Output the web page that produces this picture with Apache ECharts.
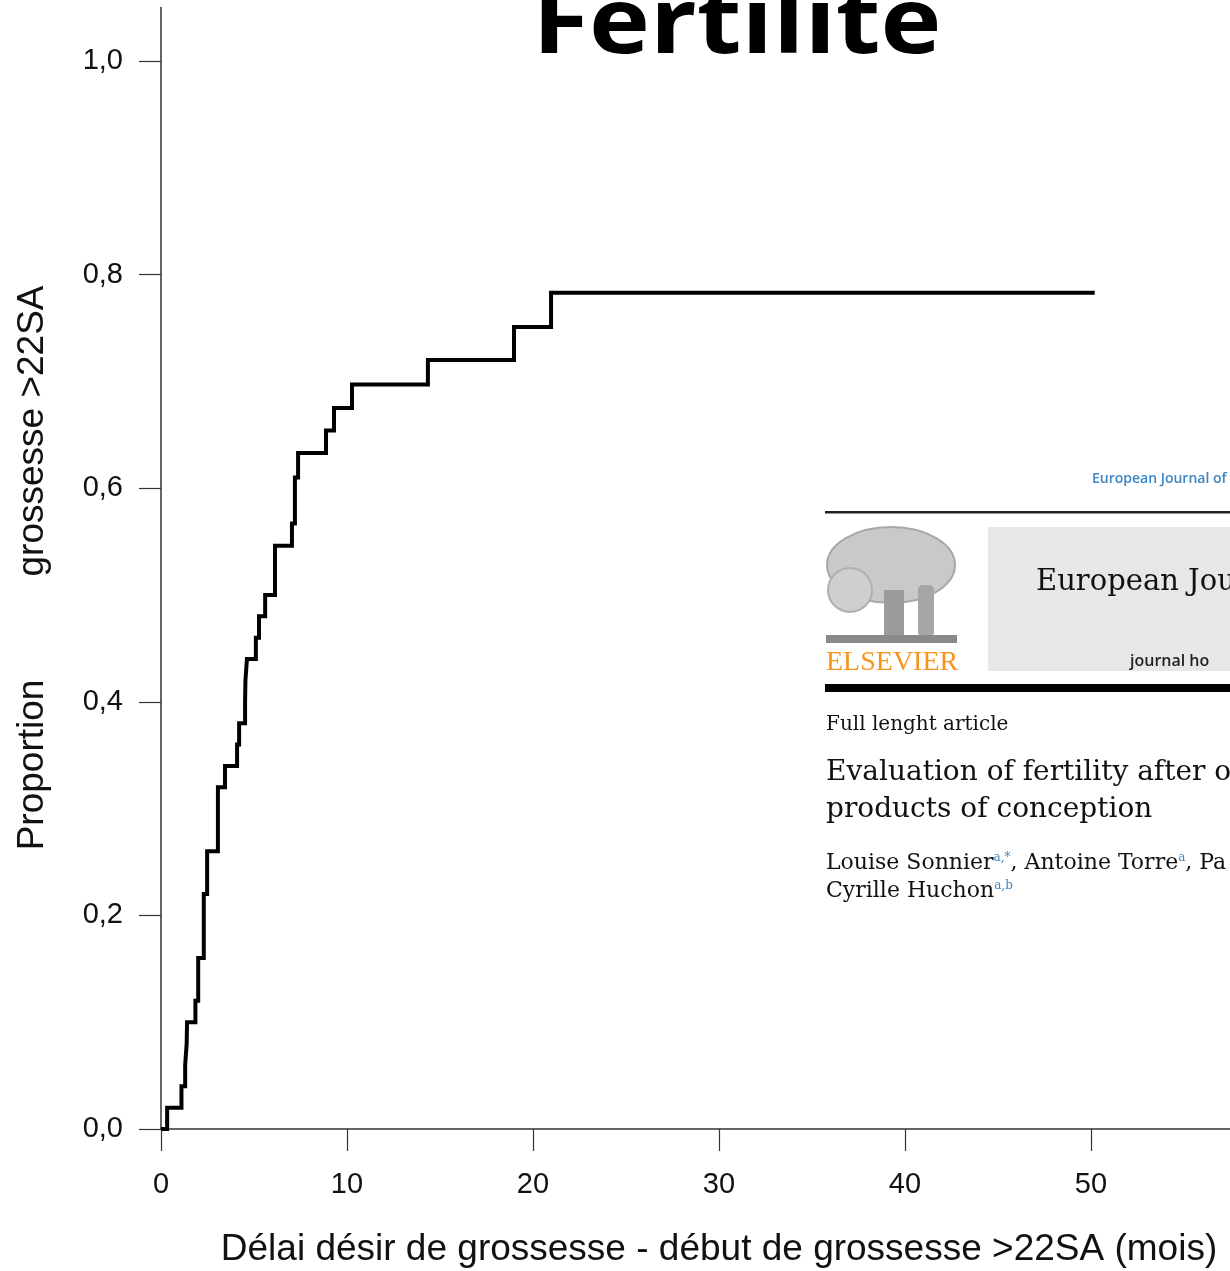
<!DOCTYPE html>
<html>
<head>
<meta charset="utf-8">
<script src="https://cdn.jsdelivr.net/npm/echarts@6/dist/echarts.min.js"></script>
<style>
html,body{margin:0;padding:0;background:#fff;}
#chart{width:1230px;height:1271px;}
</style>
</head>
<body>
<div id="chart"></div>
<script>
// Kaplan-Meier style cumulative proportion (step curve)
const timesMonths = [0, 0.33, 1.1, 1.3, 1.38, 1.4, 1.85, 2.0, 2.3, 2.48, 3.06, 3.44, 4.09, 4.2, 4.52, 4.54, 4.62, 5.1, 5.27, 5.6, 6.13, 7.04, 7.2, 7.37, 8.87, 9.3, 10.27, 14.35, 18.98, 20.97, 50.2];
const proportion  = [0, 0.02, 0.04, 0.06, 0.08, 0.10, 0.12, 0.16, 0.22, 0.26, 0.32, 0.34, 0.36, 0.38, 0.40, 0.42, 0.44, 0.46, 0.48, 0.50, 0.546, 0.567, 0.61, 0.633, 0.654, 0.675, 0.697, 0.72, 0.751, 0.783, 0.783];
const yTicks = [0, 0.2, 0.4, 0.6, 0.8, 1.0];
const xTicks = [0, 10, 20, 30, 40, 50, 60];
const titleText = 'Fertilité';
const xName = 'Délai désir de grossesse - début de grossesse >22SA (mois)';
const yName1 = 'Proportion';
const yName2 = 'grossesse >22SA';

const chart = echarts.init(document.getElementById('chart'), null, {renderer: 'canvas'});
const sans = '"Liberation Sans", Arial, sans-serif';
const serif = '"DejaVu Serif", serif';
const blue = '#3b86c6';

const option = {
  backgroundColor: '#fff',
  animation: false,
  grid: {left: 161, top: 7.6, width: 1116, height: 1121.4, containLabel: false, outerBoundsMode: 'none'},
  xAxis: {
    type: 'value', min: 0, max: 60, interval: 10,
    name: xName, nameLocation: 'middle', nameGap: 102,
    nameTextStyle: {fontFamily: sans, fontSize: 37, color: '#111'},
    axisLine: {show: true, lineStyle: {color: '#333', width: 1.5}},
    axisTick: {show: true, length: 22, lineStyle: {color: '#333', width: 1.2}, customValues: xTicks},
    axisLabel: {margin: 41, fontFamily: sans, fontSize: 29, color: '#111', customValues: xTicks},
    splitLine: {show: false}
  },
  yAxis: {
    type: 'value', min: 0, max: 1.05, interval: 0.2,
    axisLine: {show: true, lineStyle: {color: '#333', width: 1.5}},
    axisTick: {show: true, length: 22, lineStyle: {color: '#333', width: 1.2}, customValues: yTicks},
    axisLabel: {margin: 38, fontFamily: sans, fontSize: 29, color: '#111', customValues: yTicks,
      formatter: v => v.toFixed(1).replace('.', ',')},
    splitLine: {show: false}
  },
  series: [{
    type: 'line', step: 'end', symbol: 'none',
    data: timesMonths.map((t, i) => [t, proportion[i]]),
    lineStyle: {color: '#000', width: 4, cap: 'butt', join: 'miter'},
    z: 3
  }],
  graphic: [
    // title (cut off at the top)
    {type: 'text', x: 737, y: 27, scaleX: 1.12, z: 10,
     style: {text: titleText, font: 'bold 92px "Open Sans", sans-serif', textAlign: 'center', textVerticalAlign: 'middle', fill: '#000'}},
    // y axis names
    {type: 'text', x: 33, y: 765, rotation: Math.PI / 2,
     style: {text: yName1, font: '37px ' + sans, textAlign: 'center', textVerticalAlign: 'middle', fill: '#111'}},
    {type: 'text', x: 33, y: 431, rotation: Math.PI / 2,
     style: {text: yName2, font: '37px ' + sans, textAlign: 'center', textVerticalAlign: 'middle', fill: '#111'}},
    // inset article snapshot
    {type: 'rect', shape: {x: 815, y: 460, width: 420, height: 450}, style: {fill: '#fff'}, z: 5},
    {type: 'text', x: 1092, y: 479, z: 6,
     style: {text: 'European Journal of', font: '600 14px "Open Sans", sans-serif', textAlign: 'left', textVerticalAlign: 'middle', fill: blue}},
    {type: 'rect', shape: {x: 825, y: 511, width: 410, height: 2.5}, style: {fill: '#222'}, z: 6},
    // tree logo (approximation)
    {type: 'ellipse', z: 6, shape: {cx: 891, cy: 565, rx: 64, ry: 38}, style: {fill: '#c9c9c9', stroke: '#a8a8a8', lineWidth: 2}},
    {type: 'ellipse', z: 6, shape: {cx: 850, cy: 590, rx: 22, ry: 22}, style: {fill: '#cfcfcf', stroke: '#b0b0b0', lineWidth: 2}},
    {type: 'rect', z: 6, shape: {x: 884, y: 590, width: 20, height: 48}, style: {fill: '#9c9c9c'}},
    {type: 'rect', z: 6, shape: {x: 918, y: 585, width: 16, height: 52, r: 5}, style: {fill: '#a6a6a6'}},
    {type: 'rect', z: 6, shape: {x: 826, y: 635, width: 131, height: 8}, style: {fill: '#8a8a8a'}},
    {type: 'text', x: 826, y: 663, z: 6,
     style: {text: 'ELSEVIER', font: '28px "Liberation Serif", serif', textAlign: 'left', textVerticalAlign: 'middle', fill: '#f7941d'}},
    {type: 'rect', shape: {x: 988, y: 527, width: 250, height: 144}, style: {fill: '#e6e7e8'}, z: 6},
    {type: 'rect', shape: {x: 820, y: 671, width: 168, height: 12}, style: {fill: '#fff'}, z: 7},
    {type: 'text', x: 1036, y: 582, z: 7,
     style: {text: 'European Jou', font: '29px ' + serif, textAlign: 'left', textVerticalAlign: 'middle', fill: '#111'}},
    {type: 'text', x: 1130, y: 661, z: 7,
     style: {text: 'journal ho', font: '600 16px "Open Sans", sans-serif', textAlign: 'left', textVerticalAlign: 'middle', fill: '#222'}},
    {type: 'rect', shape: {x: 825, y: 684, width: 410, height: 8}, style: {fill: '#000'}, z: 6},
    {type: 'text', x: 826, y: 725, z: 6,
     style: {text: 'Full lenght article', font: '20px ' + serif, textAlign: 'left', textVerticalAlign: 'middle', fill: '#111'}},
    {type: 'text', x: 826, y: 773, z: 6,
     style: {text: 'Evaluation of fertility after o', font: '28px ' + serif, textAlign: 'left', textVerticalAlign: 'middle', fill: '#111'}},
    {type: 'text', x: 826, y: 810, z: 6,
     style: {text: 'products of conception', font: '28px ' + serif, textAlign: 'left', textVerticalAlign: 'middle', fill: '#111'}},
    {type: 'text', x: 826, y: 863, z: 6,
     style: {text: 'Louise Sonnier{s|a,*}, Antoine Torre{s|a}, Pa', font: '22px ' + serif, textAlign: 'left', textVerticalAlign: 'middle', fill: '#111',
       rich: {s: {fontSize: 12, fontFamily: serif, fill: blue, verticalAlign: 'top'}}}},
    {type: 'text', x: 826, y: 891, z: 6,
     style: {text: 'Cyrille Huchon{s|a,b}', font: '22px ' + serif, textAlign: 'left', textVerticalAlign: 'middle', fill: '#111',
       rich: {s: {fontSize: 12, fontFamily: serif, fill: blue, verticalAlign: 'top'}}}}
  ]
};
chart.setOption(option);
</script>
</body>
</html>
